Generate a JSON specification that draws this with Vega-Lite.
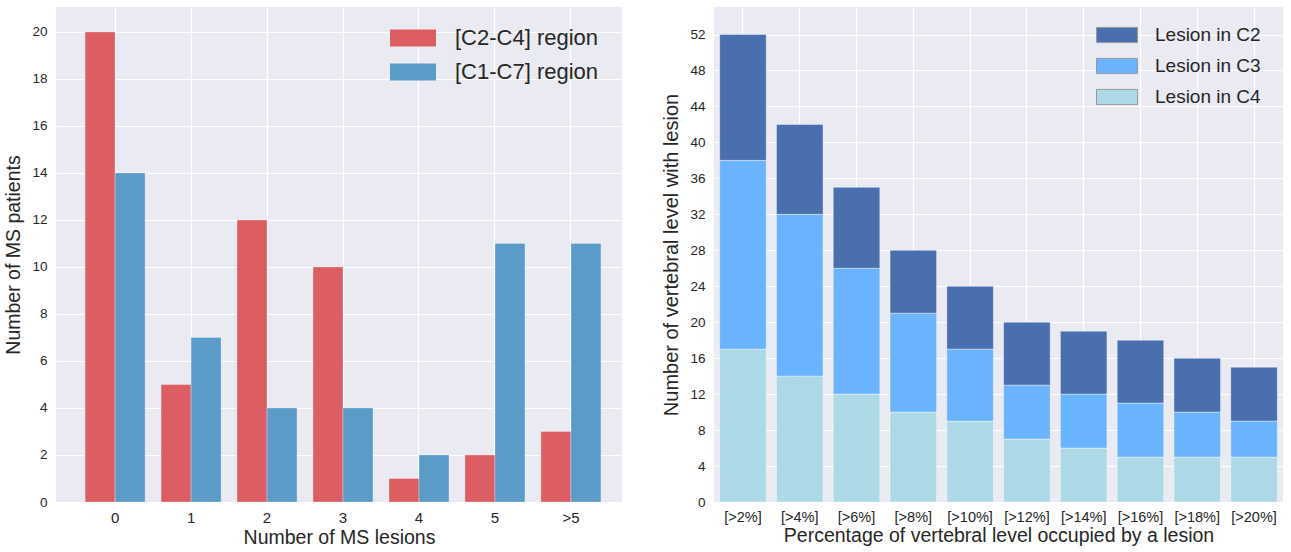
{
  "$schema": "https://vega.github.io/schema/vega-lite/v6.json",
  "padding": {"left": 3, "top": 7, "right": 0, "bottom": 0},
  "background": "white",
  "config": {
    "font": "Liberation Sans",
    "view": {"fill": "#EAEAF2", "stroke": null},
    "axis": {"domain": false, "ticks": false, "gridColor": "#ffffff", "gridWidth": 1.2, "labelColor": "#262626", "titleColor": "#262626", "labelFontSize": 13.5, "titleFontSize": 19.5, "titleFontWeight": "normal", "labelFont": "Liberation Sans", "titleFont": "Liberation Sans"},
    "legend": {"labelColor": "#262626", "labelFont": "Liberation Sans"},
    "concat": {"spacing": 39}
  },
  "resolve": {"scale": {"color": "independent"}, "legend": {"color": "independent"}},
  "hconcat": [
    {
      "width": 566,
      "height": 495,
      "data": {"values": [
        {"lesions": "0", "region": "[C2-C4] region", "patients": 20},
        {"lesions": "0", "region": "[C1-C7] region", "patients": 14},
        {"lesions": "1", "region": "[C2-C4] region", "patients": 5},
        {"lesions": "1", "region": "[C1-C7] region", "patients": 7},
        {"lesions": "2", "region": "[C2-C4] region", "patients": 12},
        {"lesions": "2", "region": "[C1-C7] region", "patients": 4},
        {"lesions": "3", "region": "[C2-C4] region", "patients": 10},
        {"lesions": "3", "region": "[C1-C7] region", "patients": 4},
        {"lesions": "4", "region": "[C2-C4] region", "patients": 1},
        {"lesions": "4", "region": "[C1-C7] region", "patients": 2},
        {"lesions": "5", "region": "[C2-C4] region", "patients": 2},
        {"lesions": "5", "region": "[C1-C7] region", "patients": 11},
        {"lesions": ">5", "region": "[C2-C4] region", "patients": 3},
        {"lesions": ">5", "region": "[C1-C7] region", "patients": 11}
      ]},
      "mark": {"type": "bar", "stroke": "#ffffff", "strokeWidth": 0.6, "strokeOpacity": 0.5},
      "encoding": {
        "x": {"field": "lesions", "type": "nominal", "sort": ["0", "1", "2", "3", "4", "5", ">5"],
          "scale": {"paddingInner": 0.21, "paddingOuter": 0.33, "align": 0.58},
          "axis": {"title": "Number of MS lesions", "labelAngle": 0, "bandPosition": 0.5, "grid": true, "labelPadding": 8, "titlePadding": 3, "labelFontSize": 15}},
        "xOffset": {"field": "region", "type": "nominal", "sort": ["[C2-C4] region", "[C1-C7] region"], "scale": {"paddingInner": 0, "paddingOuter": 0}},
        "y": {"field": "patients", "type": "quantitative",
          "scale": {"domain": [0, 21.06], "nice": false},
          "axis": {"title": "Number of MS patients", "values": [0, 2, 4, 6, 8, 10, 12, 14, 16, 18, 20], "labelPadding": 9, "titlePadding": 8}},
        "color": {"field": "region", "type": "nominal",
          "scale": {"domain": ["[C2-C4] region", "[C1-C7] region"], "range": ["#dd5e62", "#5a9bc8"]},
          "legend": {"orient": "none", "legendX": 334, "legendY": 8, "title": null, "labelFontSize": 22, "symbolType": "M-1,-0.37H1V0.37H-1Z", "symbolSize": 2116, "symbolStrokeWidth": 0, "symbolOpacity": 1, "labelOffset": 19, "rowPadding": -12, "padding": 0}}
      }
    },
    {
      "width": 569,
      "height": 495,
      "data": {"values": [
        {"pct": "[>2%]", "level": "Lesion in C4", "ord": 1, "count": 17},
        {"pct": "[>2%]", "level": "Lesion in C3", "ord": 2, "count": 21},
        {"pct": "[>2%]", "level": "Lesion in C2", "ord": 3, "count": 14},
        {"pct": "[>4%]", "level": "Lesion in C4", "ord": 1, "count": 14},
        {"pct": "[>4%]", "level": "Lesion in C3", "ord": 2, "count": 18},
        {"pct": "[>4%]", "level": "Lesion in C2", "ord": 3, "count": 10},
        {"pct": "[>6%]", "level": "Lesion in C4", "ord": 1, "count": 12},
        {"pct": "[>6%]", "level": "Lesion in C3", "ord": 2, "count": 14},
        {"pct": "[>6%]", "level": "Lesion in C2", "ord": 3, "count": 9},
        {"pct": "[>8%]", "level": "Lesion in C4", "ord": 1, "count": 10},
        {"pct": "[>8%]", "level": "Lesion in C3", "ord": 2, "count": 11},
        {"pct": "[>8%]", "level": "Lesion in C2", "ord": 3, "count": 7},
        {"pct": "[>10%]", "level": "Lesion in C4", "ord": 1, "count": 9},
        {"pct": "[>10%]", "level": "Lesion in C3", "ord": 2, "count": 8},
        {"pct": "[>10%]", "level": "Lesion in C2", "ord": 3, "count": 7},
        {"pct": "[>12%]", "level": "Lesion in C4", "ord": 1, "count": 7},
        {"pct": "[>12%]", "level": "Lesion in C3", "ord": 2, "count": 6},
        {"pct": "[>12%]", "level": "Lesion in C2", "ord": 3, "count": 7},
        {"pct": "[>14%]", "level": "Lesion in C4", "ord": 1, "count": 6},
        {"pct": "[>14%]", "level": "Lesion in C3", "ord": 2, "count": 6},
        {"pct": "[>14%]", "level": "Lesion in C2", "ord": 3, "count": 7},
        {"pct": "[>16%]", "level": "Lesion in C4", "ord": 1, "count": 5},
        {"pct": "[>16%]", "level": "Lesion in C3", "ord": 2, "count": 6},
        {"pct": "[>16%]", "level": "Lesion in C2", "ord": 3, "count": 7},
        {"pct": "[>18%]", "level": "Lesion in C4", "ord": 1, "count": 5},
        {"pct": "[>18%]", "level": "Lesion in C3", "ord": 2, "count": 5},
        {"pct": "[>18%]", "level": "Lesion in C2", "ord": 3, "count": 6},
        {"pct": "[>20%]", "level": "Lesion in C4", "ord": 1, "count": 5},
        {"pct": "[>20%]", "level": "Lesion in C3", "ord": 2, "count": 4},
        {"pct": "[>20%]", "level": "Lesion in C2", "ord": 3, "count": 6}
      ]},
      "mark": {"type": "bar", "stroke": "#ffffff", "strokeWidth": 0.8, "strokeOpacity": 0.5},
      "encoding": {
        "x": {"field": "pct", "type": "nominal", "sort": null,
          "scale": {"paddingInner": 0.18, "paddingOuter": 0.1},
          "axis": {"title": "Percentage of vertebral level occupied by a lesion", "labelAngle": 0, "bandPosition": 0.5, "grid": true, "labelPadding": 8, "titlePadding": 3, "labelFontSize": 14.5}},
        "y": {"field": "count", "type": "quantitative", "stack": "zero",
          "scale": {"domain": [0, 55.06], "nice": false},
          "axis": {"title": "Number of vertebral level with lesion", "values": [0, 4, 8, 12, 16, 20, 24, 28, 32, 36, 40, 44, 48, 52], "labelPadding": 9, "titlePadding": 8, "titleFontSize": 20}},
        "order": {"field": "ord", "type": "quantitative", "sort": "ascending"},
        "color": {"field": "level", "type": "nominal",
          "scale": {"domain": ["Lesion in C2", "Lesion in C3", "Lesion in C4"], "range": ["#4a6fae", "#6ab3fe", "#add8e6"]},
          "legend": {"orient": "none", "legendX": 382, "legendY": 7, "title": null, "labelFontSize": 19, "symbolType": "M-1,-0.37H1V0.37H-1Z", "symbolSize": 1681, "symbolStrokeColor": "#999999", "symbolStrokeWidth": 1, "symbolOpacity": 1, "labelOffset": 17, "rowPadding": -13.5, "padding": 0}}
      }
    }
  ]
}
